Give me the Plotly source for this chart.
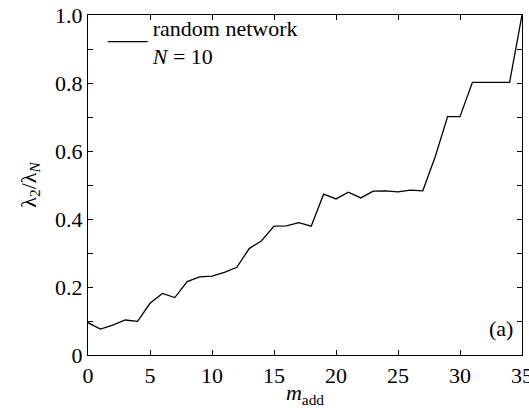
import plotly.graph_objects as go

m_add = list(range(36))
ratio = [0.095, 0.076, 0.088, 0.103, 0.099, 0.152, 0.181, 0.169, 0.216, 0.230,
         0.232, 0.243, 0.258, 0.313, 0.336, 0.379, 0.380, 0.389, 0.379, 0.473,
         0.459, 0.479, 0.462, 0.482, 0.483, 0.480, 0.485, 0.483, 0.583, 0.701,
         0.701, 0.802, 0.802, 0.802, 0.802, 1.0]

x_tickvals = [0, 5, 10, 15, 20, 25, 30, 35]
x_ticktext = ["0", "5", "10", "15", "20", "25", "30", "35"]
y_tickvals = [0, 0.2, 0.4, 0.6, 0.8, 1.0]
y_ticktext = ["0", "0.2", "0.4", "0.6", "0.8", "1.0"]

FONT = "Liberation Serif"

fig = go.Figure()
fig.add_trace(go.Scatter(
    x=m_add, y=ratio, mode="lines",
    line=dict(color="black", width=1.3),
    name="random network<br><i>N</i> = 10",
))

axis_common = dict(
    showgrid=False, zeroline=False, showline=True, linecolor="black", linewidth=1.3,
    ticks="inside", ticklen=5, tickwidth=1, tickcolor="black", mirror="ticks",
    tickfont=dict(family=FONT, size=22, color="black"),
)

fig.update_xaxes(range=[0, 35], tickvals=x_tickvals, ticktext=x_ticktext,
                 ticklabeloverflow="allow",
                 title=dict(text="<i>m</i><sub>add</sub>", font=dict(family=FONT, size=22, color="black"), standoff=0),
                 automargin=False, **axis_common)
fig.update_yaxes(range=[0, 1.0], tickvals=y_tickvals, ticktext=y_ticktext,
                 minor=dict(dtick=0.1, tick0=0, ticks="inside", ticklen=5, tickcolor="black"),
                 title=dict(text="λ<sub>2</sub>/λ<sub><i>N</i></sub>", font=dict(family=FONT, size=22, color="black"), standoff=12),
                 automargin=False, **axis_common)

fig.add_annotation(x=0.985, y=0.035, xref="paper", yref="paper", text="(a)",
                   showarrow=False, xanchor="right", yanchor="bottom",
                   font=dict(family=FONT, size=22, color="black"))

fig.update_layout(
    width=529, height=408,
    margin=dict(l=88, r=7, t=15, b=53, autoexpand=False),
    plot_bgcolor="white", paper_bgcolor="white",
    showlegend=True,
    legend=dict(x=0.034, y=1.025, xanchor="left", yanchor="top", bgcolor="rgba(0,0,0,0)",
                itemwidth=40, tracegroupgap=0,
                font=dict(family=FONT, size=22, color="black")),
)

fig.write_html("out.html", config={"displayModeBar": False},
               post_script="document.body.style.margin='0';document.body.style.overflow='hidden';")
